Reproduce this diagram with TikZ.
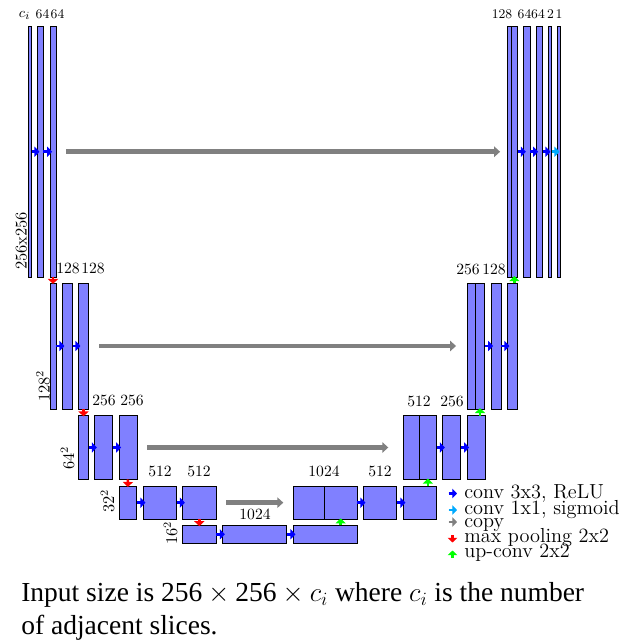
\documentclass[tikz,border=0pt]{standalone}
\usepackage{fontspec}
\newfontfamily\capfont{Liberation Serif}
\usetikzlibrary{arrows.meta,fit}

\definecolor{layerblue}{RGB}{128,128,255}
\definecolor{convblue}{RGB}{0,0,255}
\definecolor{sigcyan}{RGB}{0,170,255}
\definecolor{copygray}{RGB}{128,128,128}
\definecolor{poolred}{RGB}{255,0,0}
\definecolor{upgreen}{RGB}{0,255,0}

\tikzset{
  layer/.style={draw=black, line width=0.6pt, fill=layerblue, inner sep=0pt, outer sep=0pt},
  smallarrow/.style={line width=1.6pt, -{Triangle[length=3.2pt,width=6.4pt]}},
  conv/.style={smallarrow, draw=convblue, fill=convblue, shorten >=-1.4pt},
  sigm/.style={smallarrow, draw=sigcyan, fill=sigcyan, shorten >=-1.4pt},
  pool/.style={smallarrow, draw=poolred, fill=poolred, shorten >=-0.6pt},
  upconv/.style={smallarrow, draw=upgreen, fill=upgreen, shorten >=-0.6pt},
  copyarrow/.style={draw=copygray, line width=2.9pt, -{Triangle[length=3.8pt,width=6.6pt]}},
  keyarrow/.style={line width=1.5pt, -{Triangle[length=3pt,width=6pt]}},
  lbl/.style={inner sep=0pt, anchor=base, font=\fontsize{10}{12}\selectfont},
  toplbl/.style={inner sep=0pt, anchor=base, font=\fontsize{8.5}{10}\selectfont},
  sidelbl/.style={inner sep=0pt, anchor=base west, rotate=90, font=\fontsize{10.5}{12}\selectfont},
  keytext/.style={inner sep=0pt, anchor=base west, font=\fontsize{13}{14}\selectfont},
  captext/.style={inner sep=0pt, anchor=base west, font=\capfont\fontsize{17.6}{20}\selectfont},
}

\begin{document}
\begin{tikzpicture}[x=0.64pt, y=-0.64pt]
\useasboundingbox (0,0) rectangle (626,643);

% ---------- contracting path ----------
% level 1 (256x256)
\node[layer, fit={(28,26.5) (31.7,277)}] (l1a) {};
\node[layer, fit={(37.3,26.5) (43.3,277)}] (l1b) {};
\node[layer, fit={(50,26.5) (56,277)}] (l1c) {};
% level 2 (128^2)
\node[layer, fit={(50,283) (56,409)}] (l2a) {};
\node[layer, fit={(62.3,283) (72.7,409)}] (l2b) {};
\node[layer, fit={(78.3,283) (88.7,409)}] (l2c) {};
% level 3 (64^2)
\node[layer, fit={(78.3,415.5) (88.7,479.5)}] (l3a) {};
\node[layer, fit={(94.7,415.5) (112.7,479.5)}] (l3b) {};
\node[layer, fit={(119,415.5) (137,479.5)}] (l3c) {};
% level 4 (32^2)
\node[layer, fit={(119,486) (136.7,519.3)}] (l4a) {};
\node[layer, fit={(143.3,486) (176.7,519.3)}] (l4b) {};
\node[layer, fit={(182.7,486) (216,519.3)}] (l4c) {};
% level 5 (16^2)
\node[layer, fit={(182.7,525.3) (216,543.3)}] (l5a) {};
\node[layer, fit={(222.7,525.3) (286.7,543.3)}] (l5b) {};
\node[layer, fit={(293.3,525.3) (357.3,543.3)}] (l5c) {};

% ---------- expanding path ----------
% level 4
\node[layer, fit={(293.3,486) (357.3,519.3)}] (r4) {};
\node[layer, fit={(324,486) (357.3,519.3)}] (r4up) {};
\node[layer, fit={(363.3,486) (396.7,519.3)}] (r4b) {};
\node[layer, fit={(403.3,486) (436.7,519.3)}] (r4c) {};
% level 3
\node[layer, fit={(403.3,415.5) (436.7,479.5)}] (r3) {};
\node[layer, fit={(419,415.5) (436.7,479.5)}] (r3up) {};
\node[layer, fit={(442.7,415.5) (460.7,479.5)}] (r3b) {};
\node[layer, fit={(467,415.5) (485,479.5)}] (r3c) {};
% level 2
\node[layer, fit={(467.3,283) (484.7,409)}] (r2) {};
\node[layer, fit={(475.3,283) (484.7,409)}] (r2up) {};
\node[layer, fit={(491,283) (501.3,409)}] (r2b) {};
\node[layer, fit={(507.3,283) (517.7,409)}] (r2c) {};
% level 1
\node[layer, fit={(507.3,26.5) (517.7,277)}] (r1) {};
\node[layer, fit={(511,26.5) (517.7,277)}] (r1up) {};
\node[layer, fit={(523.7,26.5) (530.3,277)}] (r1b) {};
\node[layer, fit={(536,26.5) (542.7,277)}] (r1c) {};
\node[layer, fit={(548.3,26.5) (551.7,277)}] (r1d) {};
\node[layer, fit={(557.3,26.5) (560.3,277)}] (r1e) {};

% ---------- 3x3 convolutions ----------
\draw[conv] (l1a.east) -- (l1b.west);
\draw[conv] (l1b.east) -- (l1c.west);
\draw[conv] (l2a.east) -- (l2b.west);
\draw[conv] (l2b.east) -- (l2c.west);
\draw[conv] (l3a.east) -- (l3b.west);
\draw[conv] (l3b.east) -- (l3c.west);
\draw[conv] (l4a.east) -- (l4b.west);
\draw[conv] (l4b.east) -- (l4c.west);
\draw[conv] (l5a.east) -- (l5b.west);
\draw[conv] (l5b.east) -- (l5c.west);
\draw[conv] (r4.east) -- (r4b.west);
\draw[conv] (r4b.east) -- (r4c.west);
\draw[conv] (r3.east) -- (r3b.west);
\draw[conv] (r3b.east) -- (r3c.west);
\draw[conv] (r2.east) -- (r2b.west);
\draw[conv] (r2b.east) -- (r2c.west);
\draw[conv] (r1.east) -- (r1b.west);
\draw[conv] (r1b.east) -- (r1c.west);
\draw[conv] (r1c.east) -- (r1d.west);
% 1x1 output convolution
\draw[sigm] (r1d.east) -- (r1e.west);

% ---------- max pooling ----------
\draw[pool] (l1c.south) -- (l2a.north);
\draw[pool] (l2c.south) -- (l3a.north);
\draw[pool] (l3c.south) -- (l4a.north);
\draw[pool] (l4c.south) -- (l5a.north);

% ---------- up-convolutions ----------
\draw[upconv] (l5c.north -| r4up.center) -- (r4up.south);
\draw[upconv] (r4c.north -| r3up.center) -- (r3up.south);
\draw[upconv] (r3c.north -| r2up.center) -- (r2up.south);
\draw[upconv] (r2c.north -| r1up.center) -- (r1up.south);

% ---------- skip connections ----------
\draw[copyarrow, shorten <=6.4pt, shorten >=4.6pt] (l1c.east) -- (r1.west);
\draw[copyarrow, shorten <=6.6pt, shorten >=7.2pt] (l2c.east) -- (r2.west);
\draw[copyarrow, shorten <=6.4pt, shorten >=9.6pt] (l3c.east) -- (r3.west);
\draw[copyarrow, shorten <=6.4pt, shorten >=6.4pt] (l4c.east) -- (r4.west);

% ---------- channel counts ----------
\node[toplbl, font=\fontsize{9.5}{11}\selectfont] (t1) at (24.5,17.5) {$c_i$};
\node[toplbl] (t2) at (42.5,19) {64};
\node[toplbl] (t3) at (57.5,19) {64};
\node[toplbl] (t4) at (502,18.5) {128};
\node[toplbl] (t5) at (524.5,18.5) {64};
\node[toplbl] (t6) at (538,18.5) {64};
\node[toplbl] (t7) at (550.5,18.5) {2};
\node[toplbl] (t8) at (559,18.5) {1};

\node[lbl] (c2a) at (68,273) {128};
\node[lbl] (c2b) at (93,273) {128};
\node[lbl] (c3a) at (104,405) {256};
\node[lbl] (c3b) at (132,405) {256};
\node[lbl] (c4a) at (160,476) {512};
\node[lbl] (c4b) at (199,476) {512};
\node[lbl] (c5) at (255,519) {1024};
\node[lbl] (d4a) at (324,476) {1024};
\node[lbl] (d4b) at (380,476) {512};
\node[lbl] (d3a) at (419,406) {512};
\node[lbl] (d3b) at (452,406) {256};
\node[lbl] (d2a) at (468,274) {256};
\node[lbl] (d2b) at (494,274) {128};

% ---------- resolutions ----------
\node[sidelbl] (s1) at (26.7,270) {256x256};
\node[sidelbl] (s2) at (49.5,402) {128$^2$};
\node[sidelbl] (s3) at (74,470) {64$^2$};
\node[sidelbl] (s4) at (114,513) {32$^2$};
\node[sidelbl] (s5) at (177,545) {16$^2$};

% ---------- legend ----------
\coordinate (k1a) at (448.5,493.5); \coordinate (k1b) at (457,493.5);
\coordinate (k2a) at (448.5,510);   \coordinate (k2b) at (457,510);
\coordinate (k3a) at (448.5,522);   \coordinate (k3b) at (457,522);
\coordinate (k4a) at (452.5,535); \coordinate (k4b) at (452.5,542.5);
\coordinate (k5a) at (452.5,558); \coordinate (k5b) at (452.5,550.5);
\draw[keyarrow, draw=convblue, fill=convblue] (k1a) -- (k1b);
\draw[keyarrow, draw=sigcyan, fill=sigcyan] (k2a) -- (k2b);
\draw[keyarrow, draw=copygray, fill=copygray] (k3a) -- (k3b);
\draw[keyarrow, draw=poolred, fill=poolred] (k4a) -- (k4b);
\draw[keyarrow, draw=upgreen, fill=upgreen] (k5a) -- (k5b);
\node[keytext] (k1) at (464,498.5) {conv 3x3, ReLU};
\node[keytext] (k2) at (464,514) {conv 1x1, sigmoid};
\node[keytext] (k3) at (464,527) {copy};
\node[keytext] (k4) at (464,542.3) {max pooling 2x2};
\node[keytext] (k5) at (464,557) {up-conv 2x2};

% ---------- caption ----------
\node[captext] (cap1) at (21,601) {Input size is 256\hspace{0.22em}$\times$\hspace{0.22em}256\hspace{0.22em}$\times$\hspace{0.22em}$c_i$ where $c_i$ is the number};
\node[captext] (cap2) at (21,634) {of adjacent slices.};
\end{tikzpicture}
\end{document}
